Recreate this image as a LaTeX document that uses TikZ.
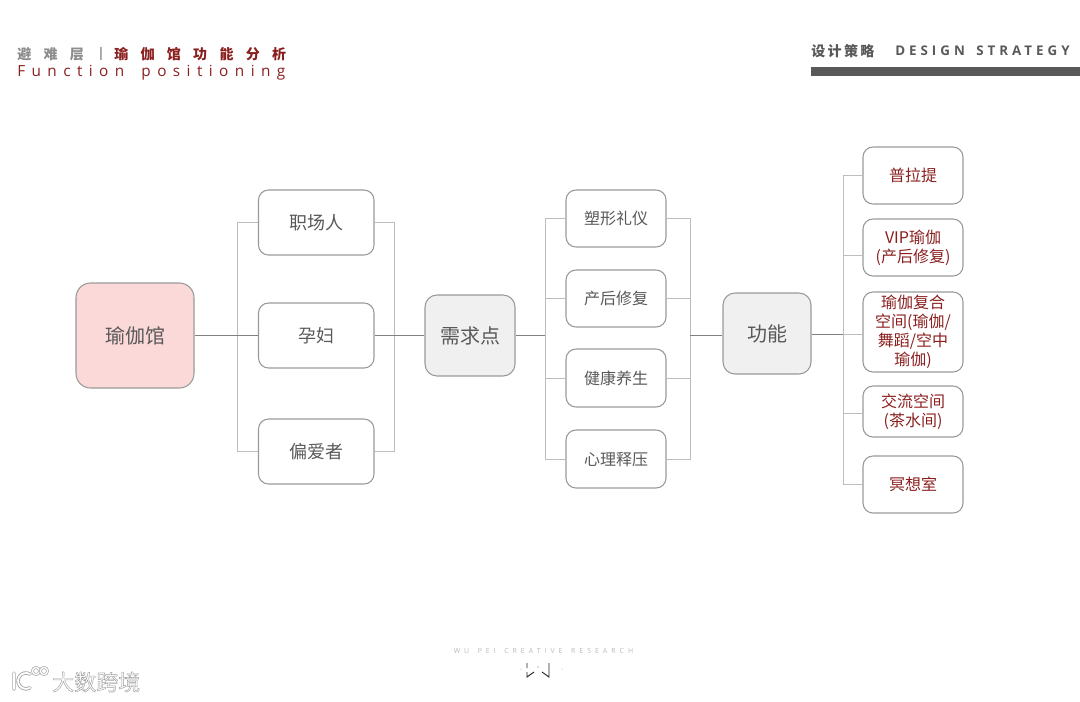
\documentclass[tikz,border=0pt]{standalone}
\usepackage{fontspec}
\setmainfont{Noto Sans CJK SC}
\newfontfamily\latinf{Open Sans}
\newfontfamily\cjkwm[FakeBold=2]{Noto Sans CJK SC}
\definecolor{txtgray}{HTML}{595959}
\definecolor{dred}{HTML}{8A1F1F}
\definecolor{boxline}{HTML}{999999}
\definecolor{wire}{HTML}{BDBDBD}
\definecolor{pinkfill}{HTML}{FBD9D9}
\tikzset{
 x=0.75pt,y=-0.75pt,
 basebox/.style={draw=boxline,line width=0.8pt,rounded corners=7.5pt,inner sep=0pt,align=center,font=\fontsize{13.5pt}{16pt}\selectfont,text=txtgray},
 rootbox/.style={basebox,fill=pinkfill,rounded corners=11pt,font=\fontsize{15pt}{18pt}\selectfont},
 hubbox/.style={basebox,fill=black!6,rounded corners=9pt,font=\fontsize{15pt}{18pt}\selectfont},
 leafbox/.style={basebox,font=\fontsize{12pt}{14.2pt}\selectfont},
 funcbox/.style={basebox,font=\fontsize{12pt}{14.2pt}\selectfont,text=dred},
 wireline/.style={draw=wire,line width=0.6pt},
 mainline/.style={draw=black!50,line width=0.6pt},
 headtxt/.style={inner sep=0pt,anchor=west},
 logoline/.style={draw=black!85,line width=0.7pt},
}
\newcommand{\bx}[7]{\node[#1,minimum width=(#4-#3)*0.75pt,minimum height=(#6-#5)*0.75pt] (#2) at ({(#3+#4)/2},{(#5+#6)/2}) {#7};}
\begin{document}
\begin{tikzpicture}
\useasboundingbox (0,0) rectangle (1080,701);
% header left
\node[headtxt,text=black!45,font=\fontsize{10.5pt}{12pt}\selectfont\bfseries\addfontfeature{LetterSpace=88}] (hl) at (17,54) {避难层};
\node[headtxt,text=black!45,font=\fontsize{10pt}{12pt}\latinf\bfseries] (hb) at (97,54) {|};
\node[headtxt,text=dred,font=\fontsize{10.5pt}{12pt}\selectfont\bfseries\addfontfeature{LetterSpace=88}] (hr) at (114,54) {瑜伽馆功能分析};
\node[headtxt,text=dred,font=\fontsize{11.5pt}{12pt}\selectfont\latinf\addfontfeature{LetterSpace=42}] (hf) at (17,72.5) {Function\hspace{5pt} positioning};
% header right
\node[headtxt,text=txtgray,font=\fontsize{10.5pt}{12pt}\selectfont\bfseries\addfontfeature{LetterSpace=17}] (hs) at (811,51) {设计策略};
\node[headtxt,text=txtgray,font=\fontsize{10pt}{12pt}\selectfont\latinf\bfseries\addfontfeature{LetterSpace=30}] (he) at (895,51) {DESIGN\hspace{3pt} STRATEGY};
\fill[txtgray] (811,67) rectangle (1080,76);
% boxes
\bx{rootbox}{root}{76}{194}{283}{388}{瑜伽馆}
\bx{basebox}{p1}{258.5}{374}{190}{255}{职场人}
\bx{basebox}{p2}{258.5}{374}{303}{368}{孕妇}
\bx{basebox}{p3}{258.5}{374}{419}{484}{偏爱者}
\bx{hubbox}{need}{425}{515}{295}{376}{需求点}
\bx{leafbox}{n1}{566}{666}{190}{247}{塑形礼仪}
\bx{leafbox}{n2}{566}{666}{270}{327}{产后修复}
\bx{leafbox}{n3}{566}{666}{349}{407}{健康养生}
\bx{leafbox}{n4}{566}{666}{430}{488}{心理释压}
\bx{hubbox}{func}{723}{811}{293}{374}{功能}
\bx{funcbox}{f1}{863}{963}{147}{204}{普拉提}
\bx{funcbox}{f2}{863}{963}{219}{276}{VIP瑜伽\\(产后修复)}
\bx{funcbox}{f3}{863}{963}{292}{372}{瑜伽复合\\空间(瑜伽/\\舞蹈/空中\\瑜伽)}
\bx{funcbox}{f4}{863}{963}{386}{437}{交流空间\\(茶水间)}
\bx{funcbox}{f5}{863}{963}{456}{513}{冥想室}
% junctions
\coordinate (j1) at (237,335);
\coordinate (j2) at (394,335);
\coordinate (j3) at (545,335);
\coordinate (j4) at (690,335);
\coordinate (j5) at (843,334);
% connectors
\draw[wireline] (j1) |- (p1.west);
\draw[wireline] (j1) |- (p3.west);
\draw[wireline] (p1.east) -| (j2);
\draw[wireline] (p3.east) -| (j2);
\draw[mainline] (root.east |- j1) -- (j1) -- (j1 -| p2.west);
\draw[mainline] (p2.east |- j2) -- (j2) -- (j2 -| need.west);
\draw[mainline] (need.east |- j3) -- (j3);
\draw[wireline] (j3) |- (n1.west);
\draw[wireline] (j3) |- (n4.west);
\draw[wireline] (j3 |- n2.west) -- (n2.west);
\draw[wireline] (j3 |- n3.west) -- (n3.west);
\draw[wireline] (n1.east) -| (j4);
\draw[wireline] (n4.east) -| (j4);
\draw[wireline] (n2.east) -- (n2.east -| j4);
\draw[wireline] (n3.east) -- (n3.east -| j4);
\draw[mainline] (j4) -- (j4 -| func.west);
\draw[mainline] (func.east |- j5) -- (j5);
\draw[wireline] (j5) |- (f1.west);
\draw[wireline] (j5) |- (f5.west);
\draw[wireline] (j5) -- (j5 -| f3.west);
\draw[wireline] (j5 |- 0,255) -- (f2.west |- 0,255);
\draw[wireline] (j5 |- 0,413) -- (f4.west |- 0,413);
% footer
\node[inner sep=0pt,text=black!28,font=\fontsize{5.2pt}{6pt}\selectfont\latinf\addfontfeature{LetterSpace=58}] (ft) at (543.5,651) {WU\hspace{2pt} PEI\hspace{2pt} CREATIVE\hspace{2pt} RESEARCH};
\draw[logoline] (527,663) -- (527,668) (527,672) -- (527,677) -- (534,672);
\draw[logoline] (549,663) -- (549,677) -- (542,672);
\fill[black!60] (538,667) circle (0.7);
\fill[black!40] (521,669) circle (0.5) (562,669) circle (0.5);
% watermark
\node[inner sep=0pt,anchor=west,font=\fontsize{16.5pt}{18pt}\cjkwm] (wm) at (52,682) {\special{pdf:code 0.62 0.62 0.62 RG 1 1 1 rg}大数跨境};
\draw[black!35,line width=2.6pt,line cap=round] (14,673) -- (14,689) (30,674) arc (-60:-300:8);
\draw[white,line width=1.3pt,line cap=round] (14,673) -- (14,689) (30,674) arc (-60:-300:8);
\foreach \cx in {36,44}{\draw[black!35,line width=2pt] (\cx,671) circle (3.6);\draw[white,line width=1pt] (\cx,671) circle (3.6);}
\end{tikzpicture}
\end{document}
